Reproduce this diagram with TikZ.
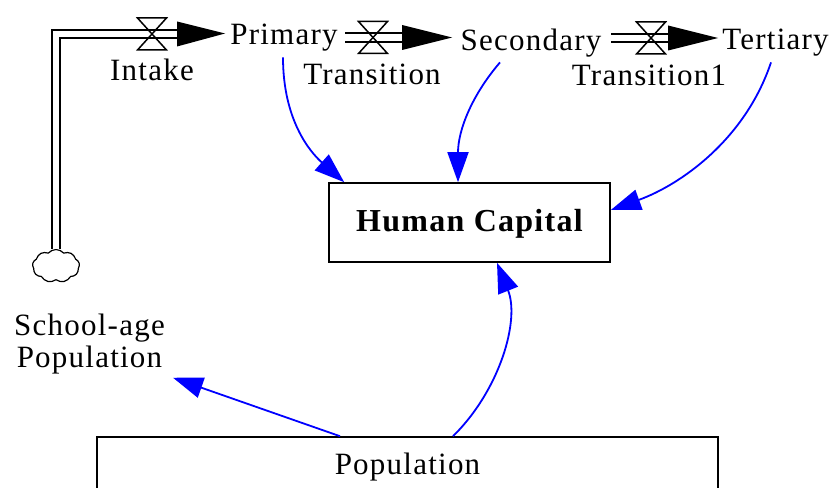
\documentclass[tikz,border=0pt]{standalone}
\usepackage{fontspec}
\setmainfont{Liberation Serif}
\usetikzlibrary{arrows.meta,shapes.symbols,calc}
\begin{document}
\begin{tikzpicture}[x=1pt,y=-1pt,
  lbl/.style={font=\fontsize{31}{32}\selectfont\addfontfeatures{LetterSpace=4}, inner sep=0pt},
  pipe/.style={draw=black, line width=1.8pt, double=white, double distance=6.8pt, line join=miter},
  valve/.pic={\draw[line width=1.5pt, line join=miter] (-14.5,-16) -- (14.5,-16) -- (-14.5,16) -- (14.5,16) -- cycle;},
  flowhead/.style={fill=black},
  info/.style={draw=blue, line width=1.8pt, -{Triangle[length=30pt,width=21pt]}},
  box/.style={draw=black, line width=1.6pt, inner sep=0pt}
]
\clip (0,0) rectangle (834,487);
\useasboundingbox (0,0) rectangle (834,487);
\fill[white] (0,0) rectangle (834,487);

% stocks
\node[lbl, anchor=base] (prim) at (284,45) {Primary};
\node[lbl, anchor=base] (sec) at (531,50) {Secondary};
\node[lbl, anchor=base] (ter) at (775.5,49) {Tertiary};

% auxiliaries
\node[box, minimum width=281pt, minimum height=79pt, text height=23pt, text depth=5pt,
      font=\fontsize{32}{36}\selectfont\bfseries\addfontfeatures{LetterSpace=4}] (hc) at (469.5,222.5) {Human Capital};
\node[box, minimum width=621pt, minimum height=60pt, text height=21pt, text depth=7pt, lbl] (pop) at (407.5,467) {Population};
\node[lbl, align=center] (school) at (89.5,344) {School-age\\Population};

% source cloud
\node[cloud, cloud puffs=9, cloud puff arc=100, draw=black, line width=1.2pt, minimum width=47pt, minimum height=33pt, inner sep=0pt] (src) at (56,266) {};

% flow pipes
\coordinate (inA) at (56.3,34);
\coordinate (inB) at (178,34);
\draw[pipe] (src.north) -- (src.north |- inA) -- (inB);
\coordinate (t1A) at (345,37.5);
\coordinate (t1B) at (403,37.5);
\draw[pipe] (t1A) -- (t1B);
\coordinate (t2A) at (611,38);
\coordinate (t2B) at (669,38);
\draw[pipe] (t2A) -- (t2B);

% flow heads
\fill[flowhead] (177,21.5) -- (225,33.5) -- (177,46.5) -- cycle;
\fill[flowhead] (402,25) -- (452,37.5) -- (402,50) -- cycle;
\fill[flowhead] (668,25.5) -- (718,38) -- (668,50.5) -- cycle;

% valves
\pic at (152,34) {valve};
\pic at (373,37.5) {valve};
\pic at (651,38) {valve};

% flow labels
\node[lbl, anchor=base] (intake) at (152,80) {Intake};
\node[lbl, anchor=base] (trans) at (372,84) {Transition};
\node[lbl, anchor=base] (trans1) at (649,85) {Transition1};

% information links
\draw[info] ([xshift=-1pt,yshift=-5.5pt]prim.south) .. controls (283,120) and (310,152) .. ([xshift=16pt]hc.north west);
\draw[info] ([xshift=-31pt,yshift=-5.5pt]sec.south) .. controls (472,95) and (458,130) .. ([xshift=-11.5pt]hc.north);
\draw[info] ([xshift=-4.5pt,yshift=-6.5pt]ter.south) .. controls (745,140) and (680,185) .. ([yshift=12.5pt]hc.east);
\draw[info] ([xshift=45.5pt]pop.north) .. controls (500,390) and (520,320) .. ([xshift=27.5pt]hc.south);
\draw[info] ([xshift=-67.5pt]pop.north) -- ([xshift=8pt,yshift=-3.5pt]school.south east);
\end{tikzpicture}
\end{document}
